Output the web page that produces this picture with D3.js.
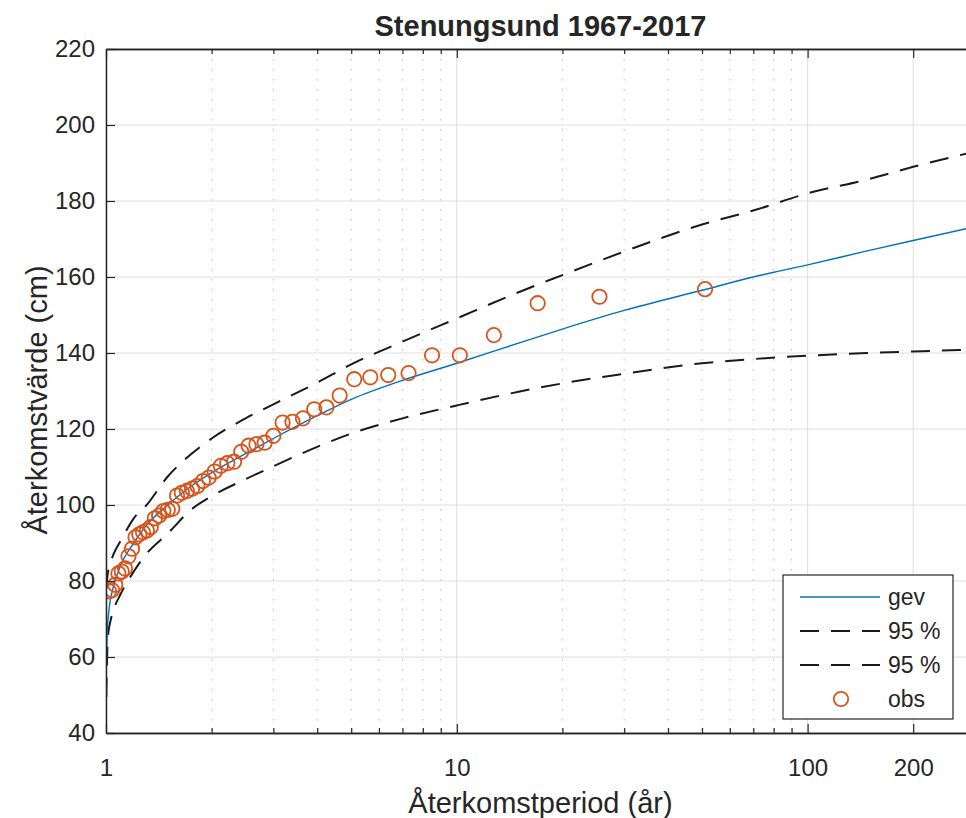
<!DOCTYPE html>
<html>
<head>
<meta charset="utf-8">
<script src="https://cdn.jsdelivr.net/npm/d3@7"></script>
<style>
  body { margin: 0; background: #fff; }
  text { font-family: "Liberation Sans", Arial, sans-serif; fill: #262626; }
</style>
</head>
<body>
<div id="chart"></div>
<script>
// return periods (years) and values (cm)
var curveT = [1.003, 1.01, 1.02, 1.05, 1.1, 1.2, 1.3, 1.5, 1.75, 2, 2.5, 3, 4, 5, 7, 10, 15, 20, 30, 50, 70, 100, 150, 200, 300];
var gevVals = [61, 68, 72.5, 78.5, 84, 90, 94.5, 100, 105, 108.5, 113.5, 117.5, 123.5, 127.8, 132.8, 137.3, 142.6, 146.3, 151.2, 156.5, 160, 163.2, 167, 169.6, 173.2];
var upperVals = [78, 81.5, 83.5, 87, 90.5, 96.5, 99.8, 107.5, 113.4, 117.5, 122.8, 126.5, 132.2, 137, 143, 149.1, 156, 160.5, 166.7, 173.8, 177.5, 182, 185.8, 189, 193];
var lowerT = [1.002, 1.006, 1.013, 1.03, 1.05, 1.1, 1.2, 1.3, 1.5, 1.75, 2, 2.5, 3, 4, 5, 7, 10, 15, 20, 30, 50, 70, 100, 150, 200, 300];
var lowerVals = [49.5, 58, 65.5, 69.5, 72.3, 76.5, 82.5, 87, 92.5, 98.8, 102.3, 106.8, 110.2, 115.3, 118.8, 122.8, 126.2, 129.8, 132, 134.5, 137.3, 138.4, 139.3, 140, 140.4, 140.9];

// observed maxima, plotting position T = 51/m
var obsT = [51, 25.5, 17, 12.75, 10.2, 8.5, 7.286, 6.375, 5.667, 5.1,
  4.636, 4.25, 3.923, 3.643, 3.4, 3.1875, 3, 2.833, 2.684, 2.55,
  2.429, 2.318, 2.217, 2.125, 2.04, 1.962, 1.889, 1.821, 1.759, 1.7,
  1.645, 1.594, 1.545, 1.5, 1.457, 1.417, 1.378, 1.342, 1.308, 1.275,
  1.244, 1.214, 1.186, 1.159, 1.133, 1.109, 1.085, 1.0625, 1.041, 1.02];
var obsVals = [156.8, 154.8, 153.1, 144.7, 139.4, 139.4, 134.7, 134.2, 133.6, 133.1,
  128.8, 125.7, 125.2, 122.8, 121.9, 121.7, 118.2, 116.4, 116.0, 115.6,
  114.0, 111.4, 111.0, 110.3, 108.8, 107.2, 106.3, 105.0, 104.3, 103.7,
  103.2, 102.5, 99.0, 98.7, 98.4, 97.2, 96.5, 94.2, 93.3, 92.8,
  92.3, 91.5, 88.5, 86.5, 83.3, 82.5, 82.0, 79.0, 77.6, 77.3];

var xMajorTicks = [1, 10, 100, 200];
var yTicks = [40, 60, 80, 100, 120, 140, 160, 180, 200, 220];
var legendLabels = ["gev", "95 %", "95 %", "obs"];

var W = 966, H = 818;
var pLeft = 106, pTop = 49, pRight = 975, pBottom = 733;

var svg = d3.select("#chart").append("svg")
  .attr("width", W).attr("height", H);

var x = d3.scaleLog().domain([1, 300]).range([pLeft, pRight]);
var y = d3.scaleLinear().domain([40, 220]).range([pBottom, pTop]);

svg.append("defs").append("clipPath").attr("id", "plotclip")
  .append("rect").attr("x", pLeft).attr("y", pTop)
  .attr("width", pRight - pLeft).attr("height", pBottom - pTop);

// grid
var minorTicks = x.ticks().filter(function (d) { return xMajorTicks.indexOf(d) < 0 && d < 300; });
var grid = svg.append("g");
grid.selectAll(".minor").data(minorTicks).enter().append("line")
  .attr("x1", function (d) { return x(d); }).attr("x2", function (d) { return x(d); })
  .attr("y1", pTop).attr("y2", pBottom)
  .attr("stroke", "#c4c4c4").attr("stroke-width", 1.2)
  .attr("stroke-dasharray", "1.5,8.5");
grid.selectAll(".majx").data(xMajorTicks).enter().append("line")
  .attr("x1", function (d) { return x(d); }).attr("x2", function (d) { return x(d); })
  .attr("y1", pTop).attr("y2", pBottom)
  .attr("stroke", "#dedede").attr("stroke-width", 1);
grid.selectAll(".majy").data(yTicks).enter().append("line")
  .attr("x1", pLeft).attr("x2", pRight)
  .attr("y1", function (d) { return y(d); }).attr("y2", function (d) { return y(d); })
  .attr("stroke", "#dedede").attr("stroke-width", 1);

// curves
var plot = svg.append("g").attr("clip-path", "url(#plotclip)");
function lineOf(ts, vs) {
  return d3.line()
    .x(function (d, i) { return x(ts[i]); })
    .y(function (d) { return y(d); })
    .curve(d3.curveMonotoneX)(vs);
}
plot.append("path").attr("d", lineOf(curveT, upperVals))
  .attr("fill", "none").attr("stroke", "#1a1a1a").attr("stroke-width", 2)
  .attr("stroke-dasharray", "19,12");
plot.append("path").attr("d", lineOf(lowerT, lowerVals))
  .attr("fill", "none").attr("stroke", "#1a1a1a").attr("stroke-width", 2)
  .attr("stroke-dasharray", "19,12");
plot.append("path").attr("d", lineOf(curveT, gevVals))
  .attr("fill", "none").attr("stroke", "#0072BD").attr("stroke-width", 1.4);

plot.selectAll(".obs").data(obsVals).enter().append("circle")
  .attr("cx", function (d, i) { return x(obsT[i]); })
  .attr("cy", function (d) { return y(d); })
  .attr("r", 7.2)
  .attr("fill", "none").attr("stroke", "#D95319").attr("stroke-width", 1.8);

// axes
var axisColor = "#262626";
var xAxis = svg.append("g").attr("transform", "translate(0," + pBottom + ")")
  .call(d3.axisBottom(x).tickValues(xMajorTicks).tickFormat(d3.format("d")).tickSizeInner(-9).tickSizeOuter(0).tickPadding(26));
var xTop = svg.append("g").attr("transform", "translate(0," + pTop + ")")
  .call(d3.axisTop(x).tickValues(xMajorTicks).tickFormat("").tickSizeInner(-9).tickSizeOuter(0));
var xMinB = svg.append("g").attr("transform", "translate(0," + pBottom + ")")
  .call(d3.axisBottom(x).tickValues(minorTicks).tickFormat("").tickSizeInner(-5).tickSizeOuter(0));
var xMinT = svg.append("g").attr("transform", "translate(0," + pTop + ")")
  .call(d3.axisTop(x).tickValues(minorTicks).tickFormat("").tickSizeInner(-5).tickSizeOuter(0));
var yAxis = svg.append("g").attr("transform", "translate(" + pLeft + ",0)")
  .call(d3.axisLeft(y).tickValues(yTicks).tickSizeInner(-9).tickSizeOuter(0).tickPadding(11));

[xAxis, xTop, xMinB, xMinT, yAxis].forEach(function (g) {
  g.select(".domain").attr("stroke", axisColor).attr("stroke-width", 1.5);
  g.selectAll(".tick line").attr("stroke", axisColor).attr("stroke-width", 1.2);
  g.selectAll(".tick text").style("font-size", "24px").attr("fill", axisColor)
    .style("font-family", "'Liberation Sans', Arial, sans-serif");
});

// titles
svg.append("text").attr("x", (pLeft + pRight) / 2).attr("y", 36)
  .attr("text-anchor", "middle").style("font-size", "29px").style("font-weight", "bold")
  .text("Stenungsund 1967-2017");
svg.append("text").attr("x", (pLeft + pRight) / 2).attr("y", 813)
  .attr("text-anchor", "middle").style("font-size", "29px")
  .text("Återkomstperiod (år)");
svg.append("text")
  .attr("transform", "translate(47,400) rotate(-90)")
  .attr("text-anchor", "middle").style("font-size", "29px")
  .text("Återkomstvärde (cm)");

// legend
var lg = svg.append("g").attr("transform", "translate(783,575)");
lg.append("rect").attr("width", 170).attr("height", 144)
  .attr("fill", "#fff").attr("stroke", axisColor).attr("stroke-width", 1.2);
var rowY = [22, 56, 90, 124];
legendLabels.forEach(function (lab, i) {
  if (i < 3) {
    lg.append("line").attr("x1", 17).attr("x2", 97)
      .attr("y1", rowY[i]).attr("y2", rowY[i])
      .attr("stroke", i === 0 ? "#0072BD" : "#1a1a1a")
      .attr("stroke-width", i === 0 ? 1.4 : 2)
      .attr("stroke-dasharray", i === 0 ? null : "19,12");
  } else {
    lg.append("circle").attr("cx", 58).attr("cy", rowY[i]).attr("r", 7.2)
      .attr("fill", "none").attr("stroke", "#D95319").attr("stroke-width", 1.8);
  }
  lg.append("text").attr("x", 105).attr("y", rowY[i] + 8)
    .style("font-size", "23px").text(lab);
});
</script>
</body>
</html>
